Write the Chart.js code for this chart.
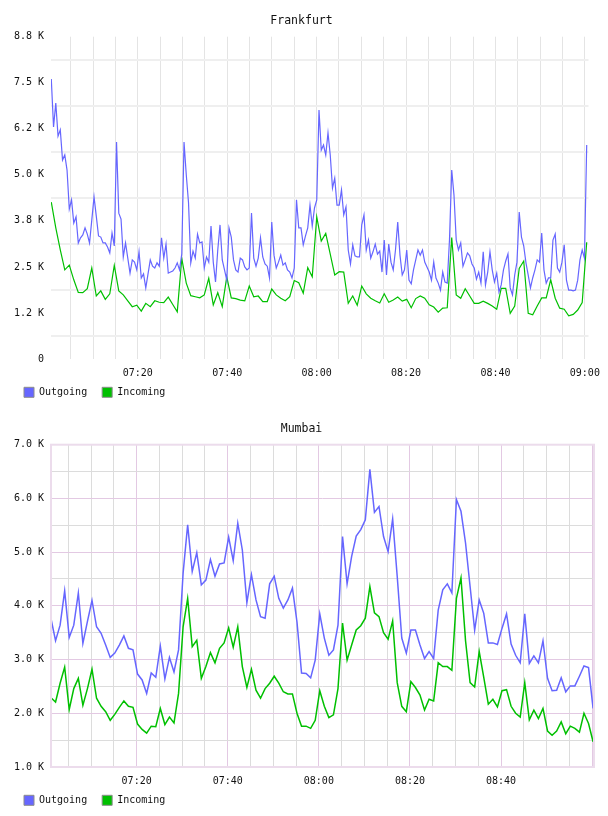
<!DOCTYPE html>
<html>
<head>
<meta charset="utf-8">
<title>Traffic</title>
<script src="https://cdn.jsdelivr.net/npm/chart.js@4.4.1/dist/chart.umd.min.js"></script>
<style>
    html, body { margin: 0; padding: 0; background: #fff; }
    canvas { display: block; }
</style>
</head>
<body>
<canvas id="frankfurtChart" width="608" height="408"></canvas>
<canvas id="mumbaiChart" width="608" height="408"></canvas>
<script>
// Times are minutes after 07:00
const frankfurtStart = 0.64;
const frankfurtOutStep = 0.50325;
const frankfurtInStep = 1.0065;

const frankfurtOutgoing = [
    7600, 6300, 6950, 6050, 6220, 5400, 5540, 5130, 4070, 4320,
    3690, 3860, 3150, 3290, 3370, 3560, 3390, 3150, 3770, 4400,
    3880, 3340, 3310, 3150, 3150, 3040, 2880, 3420, 3070, 5890,
    3960, 3800, 2770, 3150, 2740, 2330, 2690, 2630, 2420, 2910,
    2200, 2310, 1930, 2310, 2690, 2520, 2470, 2610, 2520, 3290,
    2740, 3120, 2330, 2360, 2390, 2470, 2610, 2420, 2850, 5890,
    5000, 4240, 2610, 2930, 2740, 3390, 3150, 3180, 2470, 2770,
    2630, 3610, 2630, 2090, 2960, 3640, 2690, 2420, 2140, 3560,
    3310, 2690, 2420, 2360, 2740, 2690, 2500, 2420, 2470, 3960,
    2740, 2520, 2740, 3290, 2770, 2580, 2520, 2200, 3720, 2820,
    2470, 2630, 2820, 2550, 2610, 2420, 2360, 2200, 2470, 4320,
    3560, 3560, 3100, 3340, 3560, 4180, 3610, 4100, 4320, 6760,
    5670, 5810, 5540, 6140, 5540, 4640, 4910, 4180, 4180, 4590,
    3910, 4130, 2960, 2580, 3100, 2800, 2770, 2770, 3640, 3910,
    2960, 3230, 2740, 2910, 3120, 2850, 2930, 2360, 3230, 2280,
    3120, 2630, 2420, 2960, 3720, 2820, 2280, 2420, 2960, 2140,
    2040, 2420, 2690, 2960, 2820, 2960, 2630, 2500, 2360, 2140,
    2630, 2200, 2060, 1870, 2360, 2090, 2060, 3230, 5130, 4450,
    3230, 2960, 3150, 2520, 2690, 2880, 2800, 2580, 2470, 2170,
    2360, 2060, 2910, 2010, 2360, 2910, 2420, 2090, 2330, 1820,
    2010, 2420, 2660, 2850, 1930, 1740, 2280, 2630, 3990, 3310,
    3070, 2610, 2280, 1930, 2200, 2420, 2690, 2630, 3420, 2420,
    2060, 2200, 2200, 3230, 3390, 2470, 2360, 2630, 3100, 2140,
    1870, 1870, 1850, 1870, 2140, 2690, 2960, 2740, 5810
];

const frankfurtIncoming = [
    4260, 3560, 2960, 2420, 2550, 2150, 1810, 1800, 1910, 2470,
    1710, 1850, 1620, 1770, 2540, 1850, 1740, 1580, 1420, 1460,
    1300, 1510, 1420, 1580, 1540, 1530, 1680, 1480, 1280, 2730,
    2060, 1720, 1690, 1660, 1740, 2190, 1470, 1800, 1420, 2230,
    1660, 1640, 1600, 1580, 1980, 1690, 1710, 1560, 1560, 1900,
    1740, 1650, 1580, 1690, 2130, 2070, 1790, 2480, 2230, 3860,
    3200, 3410, 2850, 2280, 2370, 2360, 1510, 1710, 1460, 1980,
    1770, 1650, 1580, 1520, 1770, 1540, 1600, 1680, 1570, 1620,
    1390, 1640, 1710, 1650, 1470, 1410, 1270, 1380, 1390, 3300,
    1740, 1650, 1910, 1710, 1510, 1510, 1570, 1510, 1440, 1350,
    1920, 1920, 1240, 1440, 2460, 2660, 1240, 1200, 1440, 1660,
    1660, 2150, 1650, 1380, 1350, 1170, 1210, 1330, 1530, 3170
];

const mumbaiStart = 1.2;
const mumbaiStep = 1.0;

const mumbaiOutgoing = [
    3760, 3350, 3640, 4280, 3410, 3640, 4240, 3300, 3710, 4100,
    3610, 3490, 3270, 3040, 3120, 3270, 3440, 3210, 3180, 2730,
    2620, 2370, 2750, 2670, 3250, 2640, 3040, 2770, 3180, 4610,
    5510, 4640, 4990, 4390, 4480, 4860, 4550, 4780, 4800, 5280,
    4840, 5540, 5040, 4060, 4580, 4110, 3800, 3770, 4410, 4550,
    4140, 3960, 4110, 4330, 3700, 2750, 2740, 2660, 2990, 3850,
    3400, 3080, 3180, 3640, 5290, 4410, 4920, 5300, 5420, 5600,
    6540, 5740, 5850, 5290, 5010, 5620, 4550, 3400, 3120, 3550,
    3550, 3270, 3020, 3150, 3020, 3920, 4300, 4410, 4240, 5980,
    5760, 5170, 4360, 3550, 4110, 3860, 3310, 3310, 3280, 3580,
    3850, 3290, 3080, 2940, 3850, 2930, 3070, 2940, 3350, 2650,
    2420, 2430, 2660, 2400, 2510, 2510, 2690, 2880, 2850, 2090
];

const mumbaiIncoming = [
    2290, 2210, 2560, 2860, 2070, 2460, 2650, 2150, 2460, 2820,
    2280, 2130, 2030, 1870, 1980, 2110, 2230, 2130, 2110, 1800,
    1700, 1630, 1760, 1750, 2090, 1790, 1930, 1820, 2370, 3610,
    4140, 3240, 3360, 2650, 2870, 3130, 2940, 3210, 3310, 3590,
    3230, 3610, 2870, 2480, 2820, 2430, 2280, 2460, 2560, 2690,
    2560, 2400, 2360, 2360, 2000, 1760, 1760, 1720, 1870, 2420,
    2130, 1920, 1970, 2460, 3680, 2990, 3270, 3550, 3630, 3770,
    4360, 3870, 3800, 3500, 3380, 3720, 2570, 2130, 2030, 2590,
    2480, 2340, 2060, 2260, 2230, 2940, 2870, 2870, 2800, 4140,
    4520, 3350, 2570, 2490, 3150, 2670, 2170, 2260, 2120, 2420,
    2440, 2130, 2000, 1930, 2570, 1880, 2060, 1900, 2090, 1670,
    1590, 1670, 1840, 1620, 1760, 1720, 1650, 2000, 1810, 1470
];

// Axis ticks
const xTickMinutes = [5, 10, 15, 20, 25, 30, 35, 40, 45, 50, 55, 60,
    65, 70, 75, 80, 85, 90, 95, 100, 105, 110, 115, 120];
const timeLabelMinutes = [20, 40, 60, 80, 100, 120];
const timeLabels = ['07:20', '07:40', '08:00', '08:20', '08:40', '09:00'];

const frankfurtYTicks = [0, 625, 1250, 1875, 2500, 3125, 3750, 4375,
    5000, 5625, 6250, 6875, 7500, 8125, 8750];
const frankfurtYLabelValues = [0, 1250, 2500, 3750, 5000, 6250, 7500, 8750];
const frankfurtYLabels = ['0', '1.2 K', '2.5 K', '3.8 K', '5.0 K', '6.2 K', '7.5 K', '8.8 K'];

const mumbaiYTicks = [1000, 1500, 2000, 2500, 3000, 3500, 4000, 4500,
    5000, 5500, 6000, 6500, 7000];
const mumbaiYLabelValues = [1000, 2000, 3000, 4000, 5000, 6000, 7000];
const mumbaiYLabels = ['1.0 K', '2.0 K', '3.0 K', '4.0 K', '5.0 K', '6.0 K', '7.0 K'];

const MONO = '"DejaVu Sans Mono", "Liberation Mono", monospace';
const OUT_COLOR = '#6666ff';
const IN_COLOR = '#00c000';

/**
 * Pair each sampled value with its time
 */
function toPoints(values, start, step) {
    return values.map((v, i) => ({ x: start + i * step, y: v }));
}

/**
 * Look up a label for a tick value, '' when the tick is unlabelled
 */
function labelFor(value, values, labels) {
    const idx = values.findIndex(v => Math.abs(v - value) < 0.001);
    return idx >= 0 ? labels[idx] : '';
}

// Frame round the plot area (Mumbai only), and let the x labels
// draw below the (squeezed) x axis box without being clipped
const plotFrame = {
    id: 'plotFrame',
    afterLayout(chart) {
        chart.scales.x.bottom = chart.height;
    },
    afterDraw(chart, args, opts) {
        if (!opts.color) return;
        const { ctx, chartArea } = chart;
        ctx.save();
        ctx.strokeStyle = opts.color;
        ctx.lineWidth = opts.width || 1;
        ctx.strokeRect(chartArea.left, chartArea.top,
            chartArea.right - chartArea.left, chartArea.bottom - chartArea.top);
        ctx.restore();
    }
};

/**
 * Build one traffic chart
 */
function buildChart(canvasId, cfg) {
    const ctx = document.getElementById(canvasId).getContext('2d');

    new Chart(ctx, {
        type: 'line',
        data: {
            datasets: [{
                label: 'Outgoing',
                data: cfg.outgoing,
                borderColor: OUT_COLOR,
                backgroundColor: OUT_COLOR,
                borderWidth: cfg.lineWidth,
                pointRadius: 0,
                tension: 0,
                fill: false
            }, {
                label: 'Incoming',
                data: cfg.incoming,
                borderColor: IN_COLOR,
                backgroundColor: IN_COLOR,
                borderWidth: cfg.lineWidth,
                pointRadius: 0,
                tension: 0,
                fill: false
            }]
        },
        options: {
            responsive: false,
            animation: false,
            events: [],
            layout: {
                padding: { left: 9, right: 14, top: 0, bottom: 0.7 }
            },
            plugins: {
                title: {
                    display: true,
                    text: cfg.title,
                    color: '#111',
                    font: { family: MONO, size: 11.5, weight: 'normal' },
                    padding: { top: 13.8, bottom: 9.1 }
                },
                legend: {
                    position: 'bottom',
                    align: 'start',
                    labels: {
                        boxWidth: 10,
                        boxHeight: 10,
                        padding: 15,
                        color: '#111',
                        font: { family: MONO, size: 10 },
                        generateLabels: function(chart) {
                            const items = Chart.defaults.plugins.legend.labels.generateLabels(chart);
                            items.forEach(item => {
                                item.strokeStyle = '#8c8c8c';
                                item.lineWidth = 1;
                            });
                            return items;
                        }
                    }
                },
                tooltip: { enabled: false },
                plotFrame: { color: cfg.frameColor, width: 2 }
            },
            scales: {
                x: {
                    type: 'linear',
                    min: cfg.xMin,
                    max: cfg.xMax,
                    afterBuildTicks: scale => {
                        scale.ticks = xTickMinutes.map(v => ({ value: v }));
                    },
                    afterFit: scale => { scale.height = 13.3; },
                    ticks: {
                        autoSkip: false,
                        maxRotation: 0,
                        padding: 8,
                        color: '#111',
                        font: { family: MONO, size: 10 },
                        callback: value => labelFor(value, cfg.timeLabelMinutes, timeLabels)
                    },
                    grid: {
                        drawTicks: false,
                        color: c => cfg.xGridColor(c.tick ? c.tick.value : 0),
                        lineWidth: 1
                    },
                    border: { display: false }
                },
                y: {
                    min: cfg.yMin,
                    max: cfg.yMax,
                    afterBuildTicks: scale => {
                        scale.ticks = cfg.yTicks.map(v => ({ value: v }));
                    },
                    afterFit: scale => { scale.width = 42; },
                    ticks: {
                        autoSkip: false,
                        padding: 7,
                        color: '#111',
                        font: { family: MONO, size: 10 },
                        callback: value => labelFor(value, cfg.yLabelValues, cfg.yLabels)
                    },
                    grid: {
                        drawTicks: false,
                        color: c => cfg.yGridColor(c.tick ? c.tick.value : 0),
                        lineWidth: cfg.yGridWidth
                    },
                    border: { display: false }
                }
            }
        },
        plugins: [plotFrame]
    });
}

document.addEventListener('DOMContentLoaded', function() {
    buildChart('frankfurtChart', {
        title: 'Frankfurt',
        outgoing: toPoints(frankfurtOutgoing, frankfurtStart, frankfurtOutStep),
        incoming: toPoints(frankfurtIncoming, frankfurtStart, frankfurtInStep),
        lineWidth: 1.2,
        xMin: 0.575,
        xMax: 120.82,
        yMin: 0,
        yMax: 8750,
        yTicks: frankfurtYTicks,
        yLabelValues: frankfurtYLabelValues,
        yLabels: frankfurtYLabels,
        timeLabelMinutes: timeLabelMinutes,
        // grid lines only sit between the labelled values
        xGridColor: () => '#e4e4e4',
        yGridColor: v => (v % 1250 !== 0 ? '#efefef' : 'rgba(0,0,0,0)'),
        yGridWidth: 2,
        frameColor: null
    });

    buildChart('mumbaiChart', {
        title: 'Mumbai',
        outgoing: toPoints(mumbaiOutgoing, mumbaiStart, mumbaiStep),
        incoming: toPoints(mumbaiIncoming, mumbaiStart, mumbaiStep),
        lineWidth: 1.5,
        xMin: 1.2,
        xMax: 120.4,
        yMin: 1000,
        yMax: 7000,
        yTicks: mumbaiYTicks,
        yLabelValues: mumbaiYLabelValues,
        yLabels: mumbaiYLabels,
        timeLabelMinutes: timeLabelMinutes.slice(0, 5),
        xGridColor: v => (v % 20 === 0 ? '#e3c9e3' : '#dcdcdc'),
        yGridColor: v => (v % 1000 === 0 ? '#e3c9e3' : '#dcdcdc'),
        yGridWidth: 1,
        frameColor: '#ecdcec'
    });
});
</script>
</body>
</html>
